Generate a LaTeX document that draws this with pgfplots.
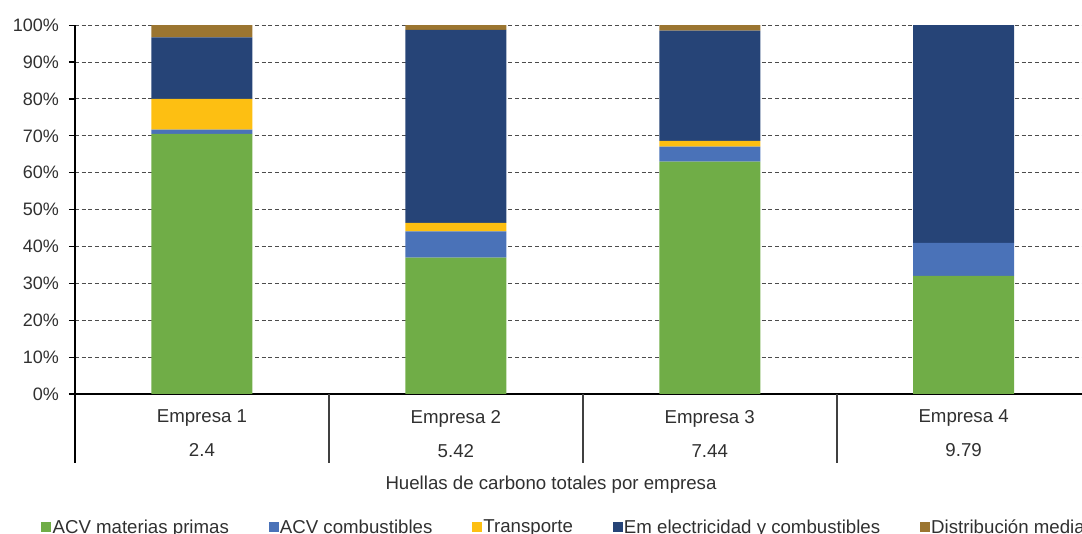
\documentclass[border=0pt]{standalone}
\usepackage{fontspec}
\setmainfont{Liberation Sans}
\usepackage{pgfplots}
\pgfplotsset{compat=1.18}
\definecolor{cgreen}{HTML}{70AD47}
\definecolor{cblue}{HTML}{4A72B8}
\definecolor{cyellow}{HTML}{FDBF12}
\definecolor{cdblue}{HTML}{264477}
\definecolor{cbrown}{HTML}{9B7530}
\definecolor{ctext}{HTML}{303030}
\begin{document}
\begin{tikzpicture}
\begin{axis}[
  at={(0,0)}, anchor=south west,
  width=761.7pt, height=276.6pt, scale only axis,
  clip=false,
  ybar stacked, bar width=75.75pt,
  xmin=-0.5, xmax=3.5, ymin=0, ymax=100,
  axis x line*=bottom, axis y line*=left,
  axis line style={black, line width=1.5pt},
  xtick={0,1,2,3},
  xticklabels={Empresa 1\\[8.7pt]2.4, Empresa 2\\[8.7pt]5.42, Empresa 3\\[8.7pt]7.44, Empresa 4\\[8.7pt]9.79},
  xticklabel style={align=center, font=\fontsize{14}{16.8}\selectfont, text=ctext, anchor=north, yshift=-4pt},
  major x tick style={draw=none},
  ytick={0,10,...,100},
  yticklabels={0\%,10\%,20\%,30\%,40\%,50\%,60\%,70\%,80\%,90\%,100\%},
  yticklabel style={font=\fontsize{13.5}{16}\selectfont, text=ctext, xshift=-4pt},
  ytick style={black, line width=0.9pt},
  tick align=outside, major tick length=4.5pt,
  ymajorgrids=true,
  grid style={densely dashed, black!70, line width=0.75pt},
  xlabel={Huellas de carbono totales por empresa},
  xlabel style={at={(axis description cs:0.4687,-0.2600)}, anchor=base, font=\fontsize{14}{16.8}\selectfont, text=ctext},
  legend columns=5,
  legend style={at={(axis description cs:-0.0335,-0.3614)}, anchor=west, draw=none, fill=none, inner sep=0pt,
    font=\fontsize{14}{16.8}\selectfont, text=ctext,
    nodes={inner xsep=1pt, inner ysep=0pt},
    /tikz/every even column/.append style={column sep=28.75pt}},
  legend image code/.code={\fill[#1] (0pt,-3.75pt) rectangle (7.5pt,3.75pt);},
]
\addplot[fill=cgreen, draw=none] coordinates {(0,70.5) (1,37.0) (2,63.0) (3,32.0)};
\addplot[fill=cblue, draw=none] coordinates {(0,1.2) (1,7.1) (2,4.1) (3,9.0)};
\addplot[fill=cyellow, draw=none] coordinates {(0,8.3) (1,2.3) (2,1.5) (3,0.0)};
\addplot[fill=cdblue, draw=none] coordinates {(0,16.7) (1,52.3) (2,29.9) (3,59.0)};
\addplot[fill=cbrown, draw=none] coordinates {(0,3.3) (1,1.3) (2,1.5) (3,0.0)};
\legend{ACV materias primas, ACV combustibles, Transporte, Em electricidad y combustibles, Distribución media}
\draw[black, line width=1.5pt] (axis cs:-0.5,0) -- ([yshift=-51.75pt]axis cs:-0.5,0);
\draw[black!75, line width=1.2pt] (axis cs:0.5,0) -- ([yshift=-51.75pt]axis cs:0.5,0);
\draw[black!75, line width=1.2pt] (axis cs:1.5,0) -- ([yshift=-51.75pt]axis cs:1.5,0);
\draw[black!75, line width=1.2pt] (axis cs:2.5,0) -- ([yshift=-51.75pt]axis cs:2.5,0);
\draw[black!75, line width=1.2pt] (axis cs:3.5,0) -- ([yshift=-51.75pt]axis cs:3.5,0);
\end{axis}
\pgfresetboundingbox
\path[use as bounding box] (-56.25pt,-105pt) rectangle (755.25pt,295.5pt);
\end{tikzpicture}
\end{document}
